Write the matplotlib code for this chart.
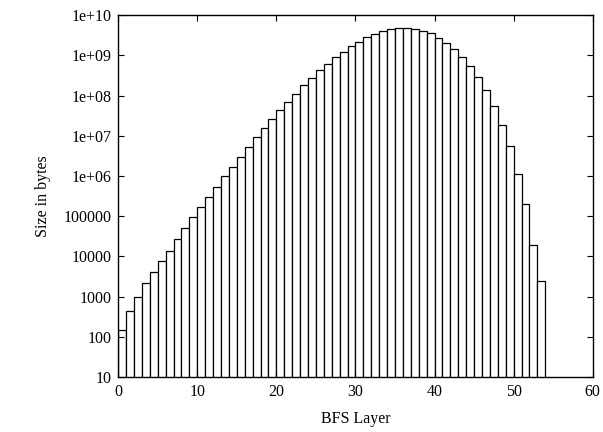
import numpy as np
import matplotlib
matplotlib.use("Agg")
import matplotlib.pyplot as plt
from matplotlib.ticker import FixedLocator, LogLocator, NullFormatter

plt.rcParams['font.family'] = ['Liberation Serif', 'DejaVu Serif']

# BFS layer index and size in bytes per layer
layers = np.arange(54)
sizes = [
    150, 450, 980, 2200, 4200, 7500, 14000, 27000, 51000, 95000,
    1.7e5, 3.0e5, 5.4e5, 9.8e5, 1.7e6, 3.0e6, 5.2e6, 9.1e6, 1.55e7, 2.6e7,
    4.3e7, 7.1e7, 1.12e8, 1.78e8, 2.75e8, 4.2e8, 6.2e8, 8.9e8, 1.23e9, 1.66e9,
    2.2e9, 2.8e9, 3.4e9, 4.1e9, 4.5e9, 4.7e9, 4.7e9, 4.5e9, 4.1e9, 3.5e9,
    2.7e9, 2.0e9, 1.4e9, 9.1e8, 5.4e8, 2.9e8, 1.38e8, 5.6e7, 1.9e7, 5.5e6,
    1.12e6, 2.0e5, 1.9e4, 2500,
]

ytick_vals = [10, 100, 1000, 1e4, 1e5, 1e6, 1e7, 1e8, 1e9, 1e10]
ytick_labels = ['10', '100', '1000', '10000', '100000',
                '1e+06', '1e+07', '1e+08', '1e+09', '1e+10']
xtick_vals = [0, 10, 20, 30, 40, 50, 60]

fig = plt.figure(figsize=(6.03, 4.32), dpi=100)
ax = fig.add_axes([0.196, 0.127, 0.787, 0.838])

ax.bar(layers, sizes, width=1.0, align='edge', bottom=1,
       facecolor='white', edgecolor='black', linewidth=0.9)

ax.set_yscale('log')
ax.set_xlim(0, 60)
ax.set_ylim(10, 1e10)

ax.yaxis.set_major_locator(FixedLocator(ytick_vals))
ax.set_yticklabels(ytick_labels)
ax.yaxis.set_minor_locator(LogLocator(base=10, subs=(2, 5, 8)))
ax.yaxis.set_minor_formatter(NullFormatter())
ax.set_xticks(xtick_vals)

ax.tick_params(which='both', direction='in', top=True, right=True,
               labelsize=11.5, width=0.8)
ax.tick_params(which='major', length=4, pad=5)
ax.tick_params(which='minor', length=2)
for sp in ax.spines.values():
    sp.set_linewidth(1.0)

ax.set_xlabel('BFS Layer', fontsize=11.5)
ax.set_ylabel('Size in bytes', fontsize=11.5)
ax.xaxis.set_label_coords(0.5, -0.093)
ax.yaxis.set_label_coords(-0.142, 0.5)

fig.savefig('out.png', dpi=100)
